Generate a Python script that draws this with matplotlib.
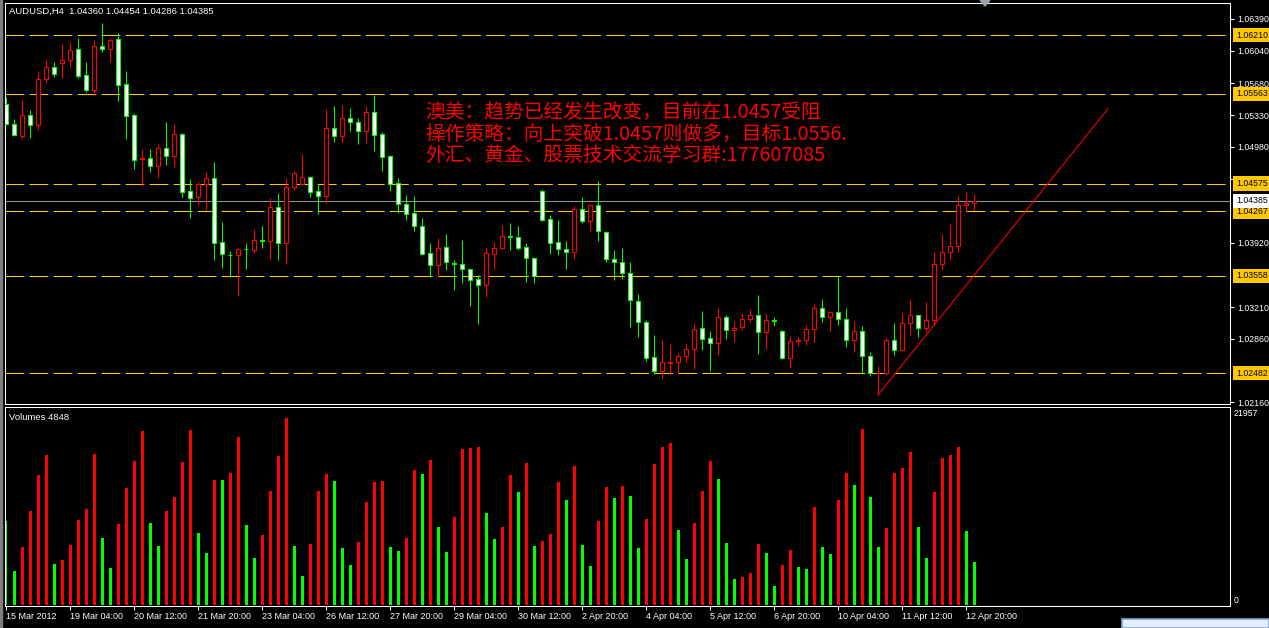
import matplotlib.pyplot as plt
from matplotlib.patches import Polygon, Rectangle

# AUDUSD H4 candles, 15 Mar 2012 .. 13 Apr 2012
opens = [1.05447, 1.05227, 1.05101, 1.05328, 1.05223, 1.05733, 1.05856, 1.05906, 1.05932, 1.06054,
         1.05767, 1.05611, 1.06088, 1.06054, 1.06164, 1.05670, 1.05328, 1.04844, 1.04852, 1.04763,
         1.04966, 1.04881, 1.05126, 1.04489, 1.04422, 1.04565, 1.04633, 1.03928, 1.03789, 1.03781,
         1.03857, 1.03844, 1.03949, 1.03937, 1.04316, 1.03924, 1.04536, 1.04574, 1.04645, 1.04489,
         1.04434, 1.05185, 1.05096, 1.05303, 1.05248, 1.05151, 1.05362, 1.05126, 1.04873, 1.04578,
         1.04346, 1.04245, 1.04106, 1.03806, 1.03671, 1.03874, 1.03701, 1.03684, 1.03629, 1.03519,
         1.03452, 1.03802, 1.03861, 1.03992, 1.03987, 1.03874, 1.03755, 1.04489, 1.04181, 1.03928,
         1.03852, 1.03815, 1.04291, 1.04156, 1.04337, 1.04042, 1.03743, 1.03709, 1.03591, 1.03279,
         1.03051, 1.02659, 1.02503, 1.02600, 1.02604, 1.02672, 1.02752, 1.02979, 1.02870, 1.02815,
         1.03102, 1.02954, 1.02992, 1.03085, 1.03123, 1.02933, 1.03064, 1.02946, 1.02646, 1.02836,
         1.02845, 1.02971, 1.03199, 1.03098, 1.03157, 1.03076, 1.02845, 1.02946, 1.02672, 1.02482,
         1.02482, 1.02849, 1.02735, 1.03034, 1.03123, 1.02984, 1.03064, 1.03684, 1.03815, 1.03882,
         1.04337, 1.04360]
highs = [1.05531, 1.05286, 1.05506, 1.05388, 1.05818, 1.05953, 1.05910, 1.06113, 1.06134, 1.06180,
         1.05910, 1.06155, 1.06345, 1.06180, 1.06235, 1.05818, 1.05354, 1.04957, 1.04957, 1.05016,
         1.05253, 1.05227, 1.05130, 1.04620, 1.04595, 1.04704, 1.04814, 1.04152, 1.03831, 1.03869,
         1.03920, 1.04076, 1.04106, 1.04418, 1.04472, 1.04637, 1.04713, 1.04903, 1.04658, 1.04565,
         1.05396, 1.05430, 1.05438, 1.05409, 1.05295, 1.05430, 1.05556, 1.05143, 1.04890, 1.04637,
         1.04447, 1.04439, 1.04198, 1.03920, 1.03979, 1.04021, 1.03734, 1.03954, 1.03633, 1.03566,
         1.03878, 1.03928, 1.04118, 1.04139, 1.04106, 1.03920, 1.03764, 1.04515, 1.04228, 1.04173,
         1.03941, 1.04329, 1.04422, 1.04350, 1.04603, 1.04051, 1.03844, 1.03865, 1.03709, 1.03359,
         1.03072, 1.02908, 1.02861, 1.02807, 1.02705, 1.02819, 1.03039, 1.03169, 1.02950, 1.03216,
         1.03127, 1.03060, 1.03148, 1.03186, 1.03346, 1.03136, 1.03106, 1.02954, 1.02895, 1.02883,
         1.03009, 1.03241, 1.03304, 1.03169, 1.03553, 1.03203, 1.03060, 1.03005, 1.02714, 1.02558,
         1.02874, 1.03034, 1.03161, 1.03304, 1.03127, 1.03270, 1.03831, 1.04021, 1.04131, 1.04447,
         1.04477, 1.04454]
lows = [1.05215, 1.05101, 1.05067, 1.05075, 1.05160, 1.05683, 1.05754, 1.05742, 1.05860, 1.05738,
        1.05586, 1.05552, 1.06029, 1.05919, 1.05489, 1.05067, 1.04738, 1.04553, 1.04704, 1.04637,
        1.04780, 1.04759, 1.04422, 1.04190, 1.04333, 1.04287, 1.03734, 1.03646, 1.03540, 1.03338,
        1.03633, 1.03810, 1.03865, 1.03726, 1.03726, 1.03688, 1.04498, 1.04561, 1.04430, 1.04240,
        1.04350, 1.05037, 1.05037, 1.05151, 1.05016, 1.05025, 1.04936, 1.04713, 1.04493, 1.04253,
        1.04177, 1.04051, 1.03789, 1.03540, 1.03549, 1.03616, 1.03397, 1.03481, 1.03220, 1.03022,
        1.03325, 1.03633, 1.03857, 1.03844, 1.03844, 1.03494, 1.03481, 1.04156, 1.03793, 1.03781,
        1.03637, 1.03743, 1.04139, 1.04046, 1.03937, 1.03709, 1.03507, 1.03519, 1.02988, 1.02878,
        1.02613, 1.02469, 1.02419, 1.02461, 1.02486, 1.02596, 1.02528, 1.02735, 1.02503, 1.02688,
        1.02857, 1.02832, 1.02958, 1.03043, 1.02693, 1.02748, 1.03001, 1.02634, 1.02545, 1.02781,
        1.02790, 1.02823, 1.03051, 1.02933, 1.03017, 1.02777, 1.02718, 1.02469, 1.02452, 1.02242,
        1.02461, 1.02680, 1.02726, 1.02899, 1.02883, 1.02933, 1.03009, 1.03625, 1.03726, 1.03819,
        1.04262, 1.04286]
closes = [1.05227, 1.05109, 1.05328, 1.05215, 1.05733, 1.05860, 1.05788, 1.05932, 1.06045, 1.05763,
          1.05611, 1.06092, 1.06054, 1.06155, 1.05666, 1.05324, 1.04839, 1.04852, 1.04772, 1.04962,
          1.04881, 1.05126, 1.04485, 1.04413, 1.04569, 1.04633, 1.03924, 1.03793, 1.03785, 1.03852,
          1.03848, 1.03949, 1.03941, 1.04316, 1.03924, 1.04536, 1.04692, 1.04645, 1.04485, 1.04434,
          1.05185, 1.05096, 1.05303, 1.05248, 1.05151, 1.05362, 1.05113, 1.04865, 1.04574, 1.04346,
          1.04240, 1.04101, 1.03802, 1.03671, 1.03861, 1.03709, 1.03688, 1.03629, 1.03511, 1.03456,
          1.03806, 1.03861, 1.03992, 1.03983, 1.03869, 1.03751, 1.03553, 1.04177, 1.03924, 1.03848,
          1.03819, 1.04291, 1.04156, 1.04342, 1.04046, 1.03739, 1.03709, 1.03583, 1.03287, 1.03047,
          1.02655, 1.02503, 1.02608, 1.02608, 1.02676, 1.02752, 1.02971, 1.02861, 1.02815, 1.03102,
          1.02958, 1.02979, 1.03085, 1.03127, 1.02933, 1.03072, 1.03055, 1.02646, 1.02836, 1.02845,
          1.02975, 1.03203, 1.03098, 1.03157, 1.03076, 1.02849, 1.02946, 1.02672, 1.02482, 1.02490,
          1.02849, 1.02735, 1.03034, 1.03123, 1.02984, 1.03068, 1.03684, 1.03819, 1.03882, 1.04337,
          1.04360, 1.04385]
volumes = [9416, 3809, 6506, 10529, 14552, 16778, 4580, 5050, 6720, 9502,
           10743, 16906, 7490, 4152, 9074, 13097, 16093, 19474, 9159, 6591,
           10529, 12070, 16007, 19560, 8046, 5821, 13996, 13990, 14809, 18789,
           8945, 5264, 7832, 12754, 16649, 20929, 6591, 3253, 6805, 12754,
           14638, 13867, 6377, 4494, 7062, 11513, 13739, 13867, 6506, 6035,
           7490, 15108, 14638, 16221, 8731, 5949, 9844, 17462, 17548, 17676,
           10272, 7362, 8731, 14552, 12626, 15879, 6591, 7148, 7961, 13739,
           11727, 15536, 6720, 4366, 9416, 13182, 11984, 13311, 12198, 6377,
           9630, 15750, 17676, 18104, 8389, 5136, 9159, 12754, 16093, 14081,
           6934, 2910, 3124, 3595, 6805, 5821, 2140, 4494, 6163, 4237,
           4023, 10957, 6506, 5692, 11727, 14766, 13439, 19688, 12070, 6506,
           8603, 14766, 15322, 17120, 8731, 5264, 12626, 16435, 16778, 17676,
           8260, 4848]

# support / resistance levels and the bid line
levels = [1.06210, 1.05563, 1.04575, 1.04267, 1.03558, 1.02482]
bid = 1.04385
price_ticks = [1.06390, 1.06040, 1.05680, 1.05330, 1.04980, 1.04630, 1.03920, 1.03210, 1.02860, 1.02160]
vol_max = 21957

# trend line (bar index, price)
trend_x = [109, 137.75]
trend_y = [1.02242, 1.05400]

tick_bars = list(range(0, 122, 8))
tick_labels = ["15 Mar 2012", "19 Mar 04:00", "20 Mar 12:00", "21 Mar 20:00", "23 Mar 04:00",
               "26 Mar 12:00", "27 Mar 20:00", "29 Mar 04:00", "30 Mar 12:00", "2 Apr 20:00",
               "4 Apr 04:00", "5 Apr 12:00", "6 Apr 20:00", "10 Apr 04:00", "11 Apr 12:00",
               "12 Apr 20:00"]

notes = ["澳美：趋势已经发生改变，目前在1.0457受阻",
         "操作策略：向上突破1.0457则做多，目标1.0556.",
         "外汇、黄金、股票技术交流学习群:177607085"]

plt.rcParams['font.family'] = ['Liberation Sans', 'DejaVu Sans']
plt.rcParams['lines.scale_dashes'] = False

GOLD = "#FFC800"
UP = "#FF0000"
DOWN = "#00FF00"
AXFS = 6.3

W, H = 1269, 628
fig = plt.figure(figsize=(W / 100, H / 100), dpi=100, facecolor="black")


def px_rect(l, t, r, b):
    return [l / W, 1 - b / H, (r - l) / W, (b - t) / H]


ax = fig.add_axes(px_rect(5, 3, 1230, 404), facecolor="black")
axv = fig.add_axes(px_rect(5, 407, 1230, 606), facecolor="black", sharex=ax)

x = list(range(len(opens)))

# candles
for i in x:
    o, h, l, c = opens[i], highs[i], lows[i], closes[i]
    up = c > o
    col = UP if up else DOWN
    ax.vlines(i, l, h, color=col, lw=0.75, zorder=2)
    ax.bar(i, abs(c - o), bottom=min(o, c), width=0.5,
           facecolor="black" if up else "white", edgecolor=col, linewidth=0.75, zorder=3)

lab_x = 1.0 + 6 / 1225
for lv in levels:
    ax.axhline(lv, color=GOLD, lw=0.75, linestyle=(0, (13.5, 3.8)), zorder=1)
    ax.text(lab_x, lv, f"{lv:.5f}", transform=ax.get_yaxis_transform(),
            fontsize=AXFS, color="black", va="center", ha="left", zorder=5, clip_on=False,
            bbox=dict(boxstyle="square,pad=0.3", fc=GOLD, ec="none"))
ax.axhline(bid, color="#8a96a3", lw=0.75, zorder=1)
ax.text(lab_x, bid, f"{bid:.5f}", transform=ax.get_yaxis_transform(),
        fontsize=AXFS, color="black", va="center", ha="left", zorder=5, clip_on=False,
        bbox=dict(boxstyle="square,pad=0.3", fc="white", ec="none"))

ax.plot(trend_x, trend_y, color=UP, lw=0.75, zorder=4)

ax.set_xlim(-0.125, 153)
ax.set_ylim(1.02143, 1.06566)
ax.yaxis.tick_right()
ax.set_yticks(price_ticks)
ax.set_yticklabels([f"{v:.5f}" for v in price_ticks])
ax.tick_params(axis="y", colors="white", length=3, width=0.75, labelsize=AXFS, pad=2.2)
ax.tick_params(axis="x", bottom=False, labelbottom=False)

# volumes: red when higher than the previous bar
vcolors = [UP if i > 0 and volumes[i] > volumes[i - 1] else DOWN for i in x]
axv.bar(x, volumes, width=0.375, color=vcolors, zorder=2)
axv.set_ylim(-112, 22181)
axv.set_yticks([])
axv.text(1.0 + 4 / 1225, vol_max, str(vol_max), transform=axv.get_yaxis_transform(),
         fontsize=AXFS, color="white", va="top", ha="left", clip_on=False)
axv.text(1.0 + 4 / 1225, 0, "0", transform=axv.get_yaxis_transform(),
         fontsize=AXFS, color="white", va="bottom", ha="left", clip_on=False)
axv.set_xticks(tick_bars)
axv.set_xticklabels(tick_labels)
axv.tick_params(axis="x", colors="white", length=3, width=0.75, labelsize=6.5, pad=1.5)
for lbl in axv.get_xticklabels():
    lbl.set_ha("left")

for a in (ax, axv):
    for sp in a.spines.values():
        sp.set_color("white")
        sp.set_linewidth(0.75)

# header texts
fig.text(9 / W, 1 - 11 / H,
         f"AUDUSD,H4  {opens[-1]:.5f} {highs[-1]:.5f} {lows[-1]:.5f} {closes[-1]:.5f}",
         color="white", fontsize=6.8, va="center")
fig.text(9 / W, 1 - 417 / H, f"Volumes {volumes[-1]}", color="white", fontsize=6.8, va="center")

for k, line in enumerate(notes):
    fig.text(425 / W, 1 - (113 + 21 * k) / H, line, color=UP, fontsize=14.2,
             family=["Noto Sans CJK SC", "DejaVu Sans"], fontweight="light", va="center")

# window bits: left border, chart shift marker, a neighbouring window at bottom right
fig.add_artist(Rectangle((0, 0), 2 / W, 1, transform=fig.transFigure, color="#7f7f7f"))
fig.add_artist(Polygon([(980 / W, 1), (990 / W, 1), (985 / W, 1 - 6 / H)],
                       transform=fig.transFigure, color="#9aa3ad"))
fig.add_artist(Rectangle((1122 / W, 0), (W - 1122) / W, 9 / H, transform=fig.transFigure,
                         facecolor="#e6edf7", edgecolor="#7da7d8", linewidth=1.2))

fig.savefig("out.png", dpi=100, facecolor="black")
